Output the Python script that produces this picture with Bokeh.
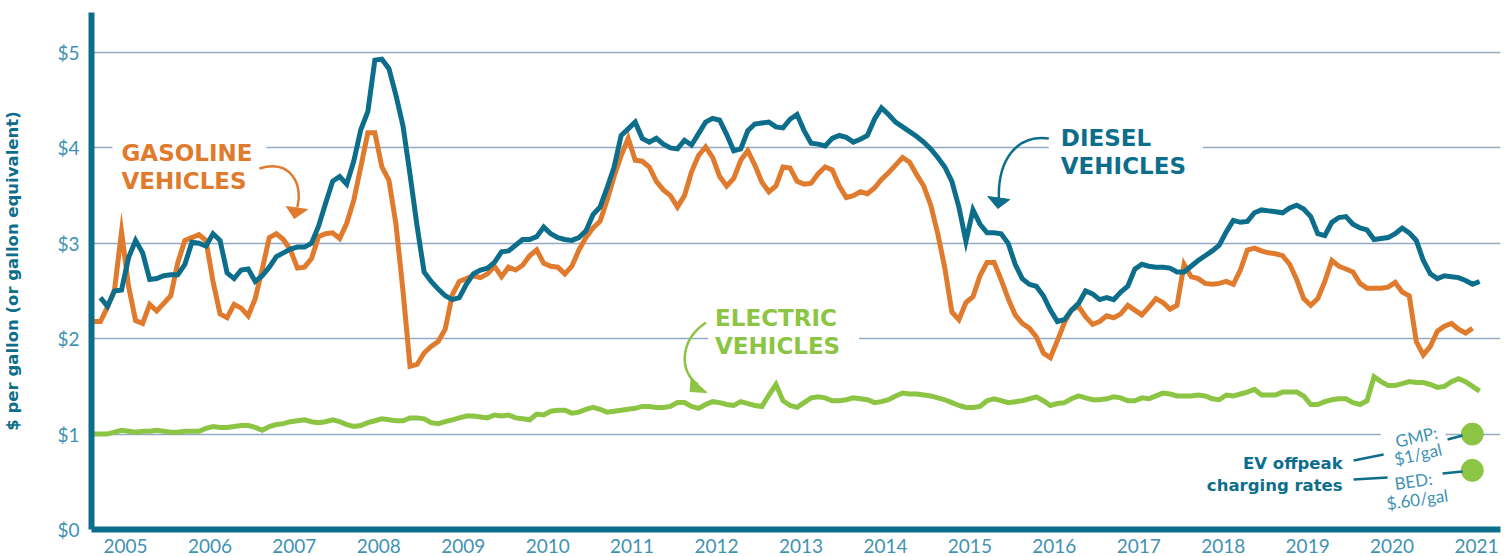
import math
from bokeh.plotting import figure
from bokeh.models import Range1d, FixedTicker, Label, BoxAnnotation
from bokeh.embed import file_html
from bokeh.resources import INLINE

# ---------------- data ----------------
YEARS = list(range(2005, 2022))
Y_TICKS = [0, 1, 2, 3, 4, 5]
Y_TICK_LABELS = ["$0", "$1", "$2", "$3", "$4", "$5"]

START = 2004.62          # decimal year of the first monthly value
DIESEL_START = START + 1 / 12

GASOLINE = [
    2.18, 2.18, 2.33, 2.51, 3.12, 2.55, 2.19, 2.16, 2.36, 2.29, 2.37, 2.45, 2.8, 3.03, 3.06, 3.09, 3.03, 2.6, 2.26, 2.22,
    2.36, 2.32, 2.24, 2.42, 2.73, 3.06, 3.1, 3.04, 2.93,
    2.74, 2.75, 2.84, 3.07, 3.1, 3.11, 3.05, 3.21, 3.45, 3.8, 4.16, 4.16, 3.8, 3.66, 3.2, 2.5, 1.71, 1.73, 1.85, 1.92,
    1.97, 2.1, 2.46, 2.6, 2.63, 2.66, 2.64, 2.68, 2.76,
    2.65, 2.75, 2.72, 2.77, 2.87, 2.93, 2.79, 2.76, 2.75, 2.68, 2.76, 2.93, 3.06, 3.16, 3.23, 3.45, 3.7, 3.92, 4.1, 3.87,
    3.86, 3.8, 3.65, 3.56, 3.5, 3.38, 3.5, 3.75,
    3.92, 4.01, 3.9, 3.7, 3.6, 3.68, 3.87, 3.97, 3.82, 3.64, 3.54, 3.6, 3.8, 3.79, 3.65, 3.62, 3.63, 3.73, 3.8, 3.77,
    3.6, 3.48, 3.5, 3.54, 3.52, 3.58, 3.67, 3.74, 3.82,
    3.9, 3.85, 3.72, 3.6, 3.4, 3.1, 2.74, 2.28, 2.2, 2.38, 2.44, 2.66, 2.8, 2.8, 2.62, 2.42, 2.25, 2.16, 2.11, 2.02,
    1.85, 1.8, 1.98, 2.17, 2.3, 2.34, 2.23, 2.15,
    2.18, 2.24, 2.22, 2.26, 2.35, 2.3, 2.25, 2.33, 2.42, 2.38, 2.31, 2.35, 2.78, 2.65, 2.63, 2.58, 2.57, 2.58, 2.6, 2.57,
    2.72, 2.93, 2.95, 2.92, 2.9, 2.89, 2.87, 2.78,
    2.62, 2.42, 2.35, 2.42, 2.6, 2.82, 2.76, 2.73, 2.7, 2.58, 2.53, 2.53, 2.53, 2.54, 2.59, 2.49, 2.45, 1.97, 1.83, 1.92,
    2.08, 2.13, 2.16, 2.1, 2.06, 2.11,
]

DIESEL = [
    2.43, 2.34, 2.5, 2.51, 2.85, 3.03, 2.9, 2.62, 2.63, 2.66, 2.67, 2.67, 2.78, 3.01, 3.0, 2.97, 3.1, 3.03, 2.69, 2.63,
    2.72, 2.73, 2.6, 2.66, 2.75, 2.86, 2.9, 2.94,
    2.96, 2.96, 3.0, 3.18, 3.42, 3.65, 3.7, 3.62, 3.86, 4.19, 4.38, 4.92, 4.93, 4.83, 4.55, 4.23, 3.72, 3.18, 2.7, 2.6,
    2.52, 2.45, 2.41, 2.43, 2.57, 2.68, 2.72, 2.74, 2.8,
    2.91, 2.92, 2.98, 3.04, 3.04, 3.07, 3.17, 3.1, 3.06, 3.04, 3.03, 3.06, 3.13, 3.3, 3.38, 3.58, 3.8, 4.13, 4.2, 4.27,
    4.1, 4.06, 4.1, 4.04, 4.0, 3.99, 4.08, 4.03,
    4.15, 4.27, 4.31, 4.29, 4.14, 3.97, 3.99, 4.18, 4.25, 4.26, 4.27, 4.22, 4.21, 4.3, 4.35, 4.18, 4.05, 4.04, 4.02, 4.1,
    4.13, 4.11, 4.06, 4.09, 4.13, 4.3, 4.42, 4.35, 4.27,
    4.22, 4.17, 4.12, 4.06, 3.99, 3.9, 3.8, 3.65, 3.38, 3.02, 3.35, 3.2, 3.11, 3.11, 3.1, 3.0, 2.78, 2.63, 2.57, 2.55,
    2.45, 2.3, 2.18, 2.2, 2.3, 2.37, 2.5, 2.47,
    2.41, 2.43, 2.41, 2.49, 2.55, 2.73, 2.78, 2.76, 2.75, 2.75, 2.74, 2.7, 2.7, 2.76, 2.82, 2.87, 2.92, 2.98, 3.12, 3.24,
    3.22, 3.23, 3.32, 3.35, 3.34, 3.33, 3.32, 3.37,
    3.4, 3.36, 3.28, 3.1, 3.08, 3.22, 3.27, 3.28, 3.2, 3.16, 3.14, 3.04, 3.05, 3.06, 3.1, 3.16, 3.11, 3.03, 2.82, 2.68,
    2.63, 2.66, 2.65, 2.64, 2.61, 2.57, 2.6,
]

ELECTRIC = [
    1.0, 1.0, 1.0, 1.02, 1.04, 1.03, 1.02, 1.03, 1.03, 1.04, 1.03, 1.02, 1.02, 1.03, 1.03, 1.03, 1.06, 1.08, 1.07, 1.07,
    1.08, 1.09, 1.09, 1.07, 1.04, 1.08, 1.1, 1.11, 1.13,
    1.14, 1.15, 1.13, 1.12, 1.13, 1.15, 1.13, 1.1, 1.08, 1.09, 1.12, 1.14, 1.16, 1.15, 1.14, 1.14, 1.17, 1.17, 1.16, 1.12,
    1.11, 1.13, 1.15, 1.17, 1.19, 1.19, 1.18, 1.17, 1.2,
    1.19, 1.2, 1.17, 1.16, 1.15, 1.21, 1.2, 1.24, 1.25, 1.25, 1.22, 1.23, 1.26, 1.28, 1.26, 1.23, 1.24, 1.25, 1.26, 1.27,
    1.29, 1.29, 1.28, 1.28, 1.29, 1.33, 1.33, 1.29,
    1.27, 1.31, 1.34, 1.33, 1.31, 1.3, 1.34, 1.32, 1.3, 1.29, 1.41, 1.52, 1.35, 1.3, 1.28, 1.33, 1.38, 1.39, 1.38, 1.35,
    1.35, 1.36, 1.38, 1.37, 1.36, 1.33, 1.34, 1.36, 1.4,
    1.43, 1.42, 1.42, 1.41, 1.4, 1.38, 1.36, 1.33, 1.3, 1.28, 1.28, 1.29, 1.35, 1.37, 1.35, 1.33, 1.34, 1.35, 1.37, 1.39,
    1.35, 1.3, 1.32, 1.33, 1.37, 1.4, 1.38, 1.36,
    1.36, 1.37, 1.39, 1.38, 1.35, 1.35, 1.38, 1.37, 1.4, 1.43, 1.42, 1.4, 1.4, 1.4, 1.41, 1.4, 1.37, 1.36, 1.41, 1.4,
    1.42, 1.44, 1.47, 1.41, 1.41, 1.41, 1.44, 1.44,
    1.44, 1.4, 1.31, 1.31, 1.34, 1.36, 1.37, 1.37, 1.33, 1.31, 1.35, 1.6, 1.55, 1.51, 1.51, 1.53, 1.55, 1.54, 1.54, 1.52,
    1.49, 1.5, 1.55, 1.58, 1.55, 1.5, 1.45,
]

EV_RATE_YEAR = 2020.95
EV_RATES = [1.0, 0.62]

# ---------------- style ----------------
TEAL = "#0d6e8c"
ORANGE = "#e07a2d"
GREEN = "#8cc443"
TICK = "#3f92b3"
GRID = "#93abc2"

W, H = 1510, 556
FRAME_L, FRAME_R, FRAME_T, FRAME_B = 90, 1500, 12, 529
# layout helpers (picture pixel -> data), only for annotation placement
X_TICK0_PX, PX_PER_YEAR = 124.0, 84.5
PX_PER_DOLLAR = 95.4


def dx(px):
    return 2005 + (px - X_TICK0_PX) / PX_PER_YEAR


def dy(py):
    return (FRAME_B - py) / PX_PER_DOLLAR


p = figure(width=W, height=H, output_backend="svg", toolbar_location=None,
           x_range=Range1d(dx(FRAME_L), dx(FRAME_R)), y_range=Range1d(0, dy(FRAME_T)),
           min_border_left=FRAME_L, min_border_right=W - FRAME_R,
           min_border_top=FRAME_T, min_border_bottom=H - FRAME_B)
p.outline_line_color = None
p.background_fill_color = "white"
p.border_fill_color = "white"
p.xgrid.visible = False
p.ygrid.grid_line_color = GRID
p.ygrid.grid_line_width = 1.3
p.ygrid.ticker = FixedTicker(ticks=Y_TICKS)

for ax in (p.xaxis[0], p.yaxis[0]):
    ax.axis_line_color = TEAL
    ax.axis_line_width = 6
    ax.major_tick_line_color = None
    ax.minor_tick_line_color = None
    ax.major_tick_out = 0
    ax.major_tick_in = 0
    ax.minor_tick_out = 0
    ax.major_label_text_color = TICK
    ax.major_label_text_font = "Lato"
    ax.major_label_text_font_size = "19px"

p.yaxis.ticker = FixedTicker(ticks=Y_TICKS)
p.yaxis.major_label_overrides = {t: s for t, s in zip(Y_TICKS, Y_TICK_LABELS)}
p.yaxis.major_label_standoff = 12
p.yaxis.axis_label = "$ per gallon (or gallon equivalent)"
p.yaxis.axis_label_text_font = "DejaVu Sans"
p.yaxis.axis_label_text_font_style = "bold"
p.yaxis.axis_label_text_font_size = "16.5px"
p.yaxis.axis_label_text_color = TEAL
p.yaxis.axis_label_standoff = 32

p.xaxis.ticker = FixedTicker(ticks=YEARS)
p.xaxis.major_label_overrides = {y: str(y) for y in YEARS}
p.xaxis.major_label_standoff = 9

# gaps in gridlines behind labels
for l, r, yv in [(111, 265, 4), (1048, 1202, 4), (707, 858, 2), (1380, 1445, 1)]:
    p.add_layout(BoxAnnotation(left=dx(l), right=dx(r), bottom=yv - 0.03, top=yv + 0.03,
                               fill_color="white", fill_alpha=1, line_color=None, level="underlay"))

# data lines
xs_g = [START + i / 12 for i in range(len(GASOLINE))]
xs_d = [DIESEL_START + i / 12 for i in range(len(DIESEL))]
xs_e = [START + i / 12 for i in range(len(ELECTRIC))]
p.line(xs_e, ELECTRIC, line_color=GREEN, line_width=5, line_join="miter")
p.line(xs_g, GASOLINE, line_color=ORANGE, line_width=5, line_join="miter")
p.line(xs_d, DIESEL, line_color=TEAL, line_width=5, line_join="miter")

# EV offpeak rate dots
p.scatter([EV_RATE_YEAR] * len(EV_RATES), EV_RATES, size=22, color=GREEN)


def label(text, px, py, color, size, bold=True, align="left", angle=0.0, font="DejaVu Sans"):
    p.add_layout(Label(x=dx(px), y=dy(py), text=text, text_color=color,
                       text_font=font, text_font_size=f"{size}px",
                       text_font_style="bold" if bold else "normal",
                       text_align=align, text_baseline="alphabetic",
                       angle=math.radians(angle)))


label("GASOLINE", 120, 152, ORANGE, 23)
label("VEHICLES", 120, 180, ORANGE, 23)
label("DIESEL", 1060, 137, TEAL, 23)
label("VEHICLES", 1060, 165, TEAL, 23)
label("ELECTRIC", 714, 317, GREEN, 23)
label("VEHICLES", 714, 345, GREEN, 23)
label("EV offpeak", 1342, 463, TEAL, 16.5, align="right")
label("charging rates", 1342, 485, TEAL, 16.5, align="right")
label("GMP:", 1395, 441, TICK, 17, bold=False, angle=13, font="Lato")
label("$1/gal", 1394, 459, TICK, 17, bold=False, angle=13, font="Lato")
label("BED:", 1394, 483, TICK, 17, bold=False, angle=8, font="Lato")
label("$.60/gal", 1386, 503, TICK, 17, bold=False, angle=8, font="Lato")


def curve(c, pts, w=2.5):
    (x0, y0), (cx0, cy0), (cx1, cy1), (x1, y1) = pts
    p.bezier(x0=[dx(x0)], y0=[dy(y0)], x1=[dx(x1)], y1=[dy(y1)],
             cx0=[dx(cx0)], cy0=[dy(cy0)], cx1=[dx(cx1)], cy1=[dy(cy1)],
             line_color=c, line_width=w)


def head(c, pts):
    p.patch([dx(a) for a, _ in pts], [dy(b) for _, b in pts], fill_color=c, line_color=c, line_width=1)


curve(ORANGE, [(258, 168), (290, 158), (302, 185), (296, 207)])
head(ORANGE, [(285, 206), (306, 209), (293, 218)])
curve(TEAL, [(1048, 138), (1015, 134), (997, 160), (998, 198)])
head(TEAL, [(987, 196), (1009, 199), (997, 208)])
curve(GREEN, [(705, 322), (678, 340), (678, 372), (697, 384)])
head(GREEN, [(690, 378), (706, 392), (689, 391)])

# connectors for EV rates
for (a, b, c, d) in [(1353, 460, 1383, 454), (1447, 439, 1462, 435), (1353, 479, 1387, 477), (1442, 473, 1462, 471)]:
    p.line([dx(a), dx(c)], [dy(b), dy(d)], line_color=TEAL, line_width=2.5)

open("out.html", "w").write(file_html(p, INLINE))
